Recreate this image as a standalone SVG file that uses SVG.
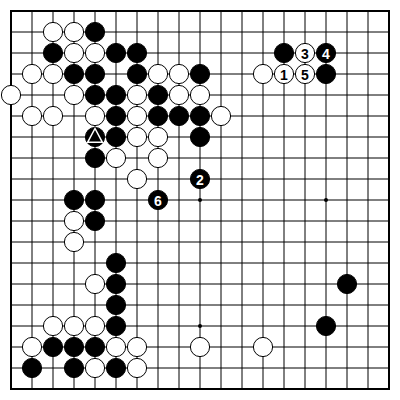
<svg xmlns="http://www.w3.org/2000/svg" width="400" height="400" viewBox="0 0 400 400">
<style>
.g{stroke:#000;stroke-width:1;fill:none}
.bd{stroke:#000;stroke-width:2;fill:none}
.b{fill:#000;stroke:#000;stroke-width:1}
.w{fill:#fff;stroke:#000;stroke-width:1}
.n{font-family:"Liberation Sans Narrow","Liberation Sans",Arial,sans-serif;font-weight:bold;font-size:14px;text-anchor:middle;dominant-baseline:central}
.nb{fill:#fff}
.nw{fill:#000}
</style>
<defs>
<circle id="B" r="9.6" class="b"/>
<circle id="W" r="9.6" class="w"/>
</defs>
<rect x="0" y="0" width="400" height="400" fill="#fff"/>
<g id="grid">
<path class="g" d="M11 32H389M11 53H389M11 74H389M11 95H389M11 116H389M11 137H389M11 158H389M11 179H389M11 200H389M11 221H389M11 242H389M11 263H389M11 284H389M11 305H389M11 326H389M11 347H389M11 368H389M32 11V389M53 11V389M74 11V389M95 11V389M116 11V389M137 11V389M158 11V389M179 11V389M200 11V389M221 11V389M242 11V389M263 11V389M284 11V389M305 11V389M326 11V389M347 11V389M368 11V389"/>
<rect class="bd" x="11" y="11" width="378" height="378"/>
<circle cx="200" cy="200" r="2"/>
<circle cx="326" cy="200" r="2"/>
<circle cx="200" cy="326" r="2"/>
</g>
<g id="black">
<g id="b1"><use href="#B" x="95" y="32"/></g>
<g id="b2"><use href="#B" x="53" y="53"/></g>
<g id="b3"><use href="#B" x="116" y="53"/></g>
<g id="b4"><use href="#B" x="137" y="53"/></g>
<g id="b5"><use href="#B" x="74" y="74"/></g>
<g id="b6"><use href="#B" x="95" y="74"/></g>
<g id="b7"><use href="#B" x="137" y="74"/></g>
<g id="b8"><use href="#B" x="200" y="74"/></g>
<g id="b9"><use href="#B" x="95" y="95"/></g>
<g id="b10"><use href="#B" x="116" y="95"/></g>
<g id="b11"><use href="#B" x="158" y="95"/></g>
<g id="b12"><use href="#B" x="116" y="116"/></g>
<g id="b13"><use href="#B" x="158" y="116"/></g>
<g id="b14"><use href="#B" x="179" y="116"/></g>
<g id="b15"><use href="#B" x="200" y="116"/></g>
<g id="b16"><use href="#B" x="95" y="137"/><polygon points="95,128.5 87.6,142.3 102.4,142.3" fill="none" stroke="#fff" stroke-width="1.5"/></g>
<g id="b17"><use href="#B" x="116" y="137"/></g>
<g id="b18"><use href="#B" x="200" y="137"/></g>
<g id="b19"><use href="#B" x="95" y="158"/></g>
<g id="b20"><use href="#B" x="200" y="179"/><text class="n nb" x="200" y="179.5">2</text></g>
<g id="b21"><use href="#B" x="74" y="200"/></g>
<g id="b22"><use href="#B" x="95" y="200"/></g>
<g id="b23"><use href="#B" x="158" y="200"/><text class="n nb" x="158" y="200.5">6</text></g>
<g id="b24"><use href="#B" x="95" y="221"/></g>
<g id="b25"><use href="#B" x="116" y="263"/></g>
<g id="b26"><use href="#B" x="116" y="284"/></g>
<g id="b27"><use href="#B" x="116" y="305"/></g>
<g id="b28"><use href="#B" x="116" y="326"/></g>
<g id="b29"><use href="#B" x="53" y="347"/></g>
<g id="b30"><use href="#B" x="74" y="347"/></g>
<g id="b31"><use href="#B" x="95" y="347"/></g>
<g id="b32"><use href="#B" x="32" y="368"/></g>
<g id="b33"><use href="#B" x="74" y="368"/></g>
<g id="b34"><use href="#B" x="116" y="368"/></g>
<g id="b35"><use href="#B" x="284" y="53"/></g>
<g id="b36"><use href="#B" x="326" y="53"/><text class="n nb" x="326" y="53.5">4</text></g>
<g id="b37"><use href="#B" x="326" y="74"/></g>
<g id="b38"><use href="#B" x="347" y="284"/></g>
<g id="b39"><use href="#B" x="326" y="326"/></g>
</g>
<g id="white">
<g id="w1"><use href="#W" x="53" y="32"/></g>
<g id="w2"><use href="#W" x="74" y="32"/></g>
<g id="w3"><use href="#W" x="74" y="53"/></g>
<g id="w4"><use href="#W" x="95" y="53"/></g>
<g id="w5"><use href="#W" x="32" y="74"/></g>
<g id="w6"><use href="#W" x="53" y="74"/></g>
<g id="w7"><use href="#W" x="158" y="74"/></g>
<g id="w8"><use href="#W" x="179" y="74"/></g>
<g id="w9"><use href="#W" x="11" y="95"/></g>
<g id="w10"><use href="#W" x="74" y="95"/></g>
<g id="w11"><use href="#W" x="137" y="95"/></g>
<g id="w12"><use href="#W" x="179" y="95"/></g>
<g id="w13"><use href="#W" x="200" y="95"/></g>
<g id="w14"><use href="#W" x="32" y="116"/></g>
<g id="w15"><use href="#W" x="53" y="116"/></g>
<g id="w16"><use href="#W" x="95" y="116"/></g>
<g id="w17"><use href="#W" x="137" y="116"/></g>
<g id="w18"><use href="#W" x="221" y="116"/></g>
<g id="w19"><use href="#W" x="137" y="137"/></g>
<g id="w20"><use href="#W" x="158" y="137"/></g>
<g id="w21"><use href="#W" x="116" y="158"/></g>
<g id="w22"><use href="#W" x="158" y="158"/></g>
<g id="w23"><use href="#W" x="137" y="179"/></g>
<g id="w24"><use href="#W" x="74" y="221"/></g>
<g id="w25"><use href="#W" x="74" y="242"/></g>
<g id="w26"><use href="#W" x="95" y="284"/></g>
<g id="w27"><use href="#W" x="53" y="326"/></g>
<g id="w28"><use href="#W" x="74" y="326"/></g>
<g id="w29"><use href="#W" x="95" y="326"/></g>
<g id="w30"><use href="#W" x="32" y="347"/></g>
<g id="w31"><use href="#W" x="116" y="347"/></g>
<g id="w32"><use href="#W" x="137" y="347"/></g>
<g id="w33"><use href="#W" x="200" y="347"/></g>
<g id="w34"><use href="#W" x="263" y="347"/></g>
<g id="w35"><use href="#W" x="95" y="368"/></g>
<g id="w36"><use href="#W" x="137" y="368"/></g>
<g id="w37"><use href="#W" x="263" y="74"/></g>
<g id="w38"><use href="#W" x="284" y="74"/><text class="n nw" x="284" y="74.5">1</text></g>
<g id="w39"><use href="#W" x="305" y="53"/><text class="n nw" x="305" y="53.5">3</text></g>
<g id="w40"><use href="#W" x="305" y="74"/><text class="n nw" x="305" y="74.5">5</text></g>
</g>
</svg>
